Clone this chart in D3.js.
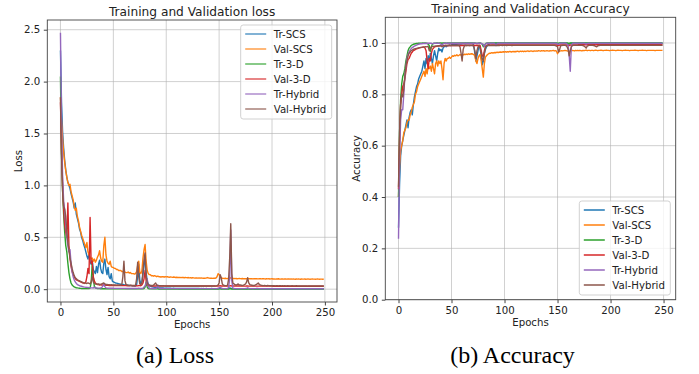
<!DOCTYPE html>
<html>
<head>
<meta charset="utf-8">
<script src="https://cdn.jsdelivr.net/npm/d3@7"></script>
<style>
  body { margin: 0; background: #fff; }
  svg text { font-family: "DejaVu Sans", sans-serif; }
</style>
</head>
<body>
<svg id="chart" width="699" height="374"></svg>
<script>
// ---- data ----
const seriesNames = ["Tr-SCS", "Val-SCS", "Tr-3-D", "Val-3-D", "Tr-Hybrid", "Val-Hybrid"];
const seriesColors = ["#1f77b4", "#ff7f0e", "#2ca02c", "#d62728", "#9467bd", "#8c564b"];
const epochTicks = [0, 50, 100, 150, 200, 250];
const lossTicks = [0, 0.5, 1.0, 1.5, 2.0, 2.5];
const accTicks = [0, 0.2, 0.4, 0.6, 0.8, 1.0];
const captions = ["(a) Loss", "(b) Accuracy"];

const trScsLoss = [
  2.30,1.80,1.52,1.36,1.24,1.15,1.08,1.03,1.00,0.97,
  .92,.88,.84,.78,.83,.72,.68,.64,.58,.55,
  .50,.47,.43,.40,.36,.32,.29,.35,.27,.24,
  .28,.19,.17,.15,.22,.16,.24,.28,.20,.16,
  .15,.25,.29,.19,.14,.21,.12,.10,.15,.08,
  .07,.065,.06,.058,.055,.052,.05,.048,.046,.045,
  .043,.042,.04,.039,.038,.036,.035,.034,.033,.032,
  .031,.03,.04,.13,.24,.09,.05,.07,.14,.22,
  .33,.16,.08,.05,.035,.03,.026,.022,.02,.018,
  .016,.015,.014,.013,.012,.012,.011,.011,.010,.010,
  .010,.009,.009,.009,.009,.008,.008,.009,.008,.008,
  .008,.008,.007,.008,.007,.007,.007,.008,.007,.007,
  .007,.006,.007,.006,.006,.007,.006,.006,.006,.006,
  .006,.006,.005,.006,.005,.006,.005,.005,.006,.005,
  .005,.005,.005,.006,.005,.005,.005,.005,.005,.005,
  .006,.008,.007,.005,.005,.005,.005,.005,.005,.006,
  .012,.009,.005,.005,.005,.004,.005,.004,.004,.005,
  .004,.004,.005,.004,.004,.004,.004,.006,.005,.004,
  .004,.004,.004,.004,.004,.004,.005,.004,.004,.004,
  .004,.004,.004,.004,.004,.004,.004,.004,.004,.004,
  .004,.004,.003,.004,.004,.004,.003,.004,.004,.004,
  .003,.004,.004,.003,.004,.003,.004,.004,.003,.004,
  .003,.003,.004,.003,.003,.004,.003,.003,.004,.003,
  .003,.003,.003,.004,.003,.003,.003,.003,.003,.004,
  .003,.003,.003,.003,.003,.004,.003,.003,.003,.003
];
const valScsLoss = [
  1.85,1.62,1.45,1.32,1.22,1.14,1.08,1.03,1.00,1.01,
  .94,.90,.86,.80,.76,.78,.70,.66,.60,.56,
  .52,.49,.46,.43,.40,.45,.36,.33,.31,.29,
  .30,.27,.29,.26,.28,.31,.33,.37,.30,.27,
  .26,.42,.50,.33,.27,.25,.24,.27,.22,.21,
  .21,.20,.20,.19,.19,.18,.18,.18,.17,.17,
  .17,.165,.16,.16,.165,.155,.16,.15,.15,.15,
  .145,.15,.17,.23,.27,.16,.15,.18,.30,.38,
  .43,.27,.18,.15,.14,.14,.13,.13,.125,.13,
  .125,.12,.125,.12,.12,.115,.12,.12,.115,.12,
  .118,.12,.117,.115,.118,.116,.114,.117,.115,.113,
  .115,.112,.114,.113,.111,.113,.112,.11,.112,.111,
  .11,.112,.109,.111,.108,.11,.109,.107,.109,.108,
  .107,.109,.106,.108,.107,.105,.107,.106,.108,.112,
  .108,.106,.105,.107,.104,.106,.105,.108,.12,.15,
  .14,.12,.11,.105,.104,.103,.105,.102,.104,.103,
  .11,.108,.105,.103,.104,.102,.103,.101,.102,.104,
  .102,.101,.103,.1,.102,.101,.1,.104,.102,.1,
  .101,.1,.099,.101,.1,.102,.1,.099,.101,.1,
  .099,.1,.101,.099,.098,.1,.099,.1,.098,.099,
  .1,.098,.099,.097,.099,.098,.1,.098,.097,.099,
  .098,.097,.099,.098,.097,.098,.099,.097,.098,.097,
  .098,.097,.096,.098,.097,.098,.097,.096,.098,.097,
  .097,.098,.096,.097,.098,.097,.096,.097,.098,.097,
  .097,.096,.097,.098,.097,.096,.097,.097,.096,.097
];
const trThreeDLoss = [
  2.05,1.30,.95,.72,.55,.42,.36,.25,.16,.10,
  .06,.04,.03,.022,.018,.014,.012,.010,.009,.008,
  .007,.006,.006,.005,.005,.005,.005,.006,.010,.060,
  .24,.12,.03,.012,.008,.006,.005,.005,.004,.004,
  .004,.004,.005,.004,.004,.003,.004,.003,.003,.003,
  .003,.003,.003,.003,.003,.003,.003,.003,.003,.003,
  .003,.003,.003,.003,.003,.003,.003,.003,.003,.003,
  .003,.003,.003,.003,.003,.003,.003,.003,.004,.006,
  .02,.07,.02,.006,.004,.003,.003,.003,.003,.003,
  .003,.003,.003,.002,.002,.002,.002,.002,.002,.002,
  .002,.002,.002,.002,.002,.002,.002,.002,.002,.002,
  .002,.002,.002,.002,.002,.002,.002,.002,.002,.002,
  .002,.002,.002,.002,.002,.002,.002,.002,.002,.002,
  .002,.002,.002,.002,.002,.002,.002,.002,.002,.002,
  .002,.002,.002,.002,.002,.002,.002,.002,.002,.002,
  .003,.003,.002,.002,.002,.002,.002,.002,.002,.002,
  .003,.004,.002,.002,.002,.002,.002,.002,.002,.002,
  .002,.002,.002,.002,.002,.002,.002,.002,.002,.002,
  .002,.002,.002,.002,.002,.002,.002,.002,.002,.002,
  .002,.002,.002,.002,.002,.002,.002,.002,.002,.002,
  .002,.002,.002,.002,.002,.002,.002,.002,.002,.002,
  .002,.002,.002,.002,.002,.002,.002,.002,.002,.002,
  .002,.002,.002,.002,.002,.002,.002,.002,.002,.002,
  .002,.002,.002,.002,.002,.002,.002,.002,.002,.002,
  .002,.002,.002,.002,.002,.002,.002,.002,.002,.002
];
const valThreeDLoss = [
  1.80,1.35,1.00,.78,.62,.55,.50,.83,.42,.30,
  .22,.17,.14,.12,.10,.09,.085,.08,.075,.07,
  .065,.06,.06,.055,.07,.12,.20,.15,.69,.25,
  .27,.12,.08,.06,.05,.045,.045,.04,.045,.04,
  .04,.045,.04,.038,.04,.037,.036,.038,.035,.036,
  .035,.036,.034,.035,.034,.035,.036,.034,.035,.034,
  .034,.035,.034,.033,.034,.033,.034,.035,.033,.034,
  .033,.034,.033,.032,.035,.034,.033,.04,.06,.10,
  .18,.08,.04,.035,.032,.033,.032,.031,.032,.031,
  .031,.032,.031,.031,.031,.031,.031,.031,.031,.031,
  .031,.031,.030,.031,.031,.030,.031,.030,.031,.030,
  .030,.031,.030,.030,.030,.031,.030,.030,.030,.030,
  .030,.030,.030,.030,.030,.030,.030,.030,.030,.030,
  .030,.030,.030,.030,.030,.030,.030,.030,.030,.030,
  .030,.030,.030,.030,.030,.030,.030,.030,.030,.031,
  .032,.033,.031,.030,.030,.030,.030,.030,.030,.030,
  .032,.034,.031,.030,.030,.030,.030,.030,.030,.030,
  .029,.030,.029,.030,.029,.029,.030,.030,.029,.029,
  .029,.029,.029,.029,.029,.029,.029,.029,.029,.029,
  .029,.029,.029,.029,.029,.029,.029,.029,.029,.029,
  .029,.028,.029,.028,.029,.028,.029,.028,.028,.029,
  .028,.028,.028,.028,.028,.028,.028,.028,.028,.028,
  .028,.028,.028,.028,.028,.028,.028,.028,.028,.028,
  .028,.028,.028,.028,.028,.028,.028,.028,.028,.028,
  .028,.028,.028,.028,.028,.028,.028,.028,.028,.028
];
const trHybridLoss = [
  2.47,1.60,1.10,.85,.76,.62,.50,.42,.36,.38,
  .25,.17,.12,.09,.07,.055,.045,.04,.035,.03,
  .028,.025,.022,.02,.018,.017,.016,.015,.014,.013,
  .013,.012,.02,.012,.011,.01,.01,.01,.011,.015,
  .03,.045,.025,.012,.01,.01,.009,.009,.009,.009,
  .009,.008,.008,.008,.008,.008,.008,.008,.008,.008,
  .008,.008,.007,.008,.007,.007,.007,.007,.007,.007,
  .007,.007,.007,.008,.01,.008,.007,.007,.01,.02,
  .03,.06,.10,.03,.01,.008,.007,.006,.006,.006,
  .006,.01,.04,.012,.006,.006,.006,.006,.005,.005,
  .005,.005,.005,.005,.005,.005,.005,.005,.005,.005,
  .005,.005,.005,.005,.005,.005,.005,.005,.005,.005,
  .005,.005,.005,.005,.005,.005,.005,.005,.005,.005,
  .005,.005,.005,.005,.005,.005,.005,.005,.005,.005,
  .005,.005,.005,.005,.005,.005,.005,.005,.006,.008,
  .012,.02,.01,.006,.005,.005,.005,.005,.006,.02,
  .10,.57,.08,.01,.006,.005,.005,.005,.005,.005,
  .005,.005,.005,.005,.005,.006,.008,.012,.006,.005,
  .005,.005,.004,.005,.005,.006,.008,.006,.005,.004,
  .004,.004,.004,.004,.004,.004,.004,.004,.004,.004,
  .004,.004,.004,.004,.004,.004,.004,.004,.004,.004,
  .004,.004,.004,.004,.004,.004,.004,.004,.004,.004,
  .004,.004,.004,.004,.004,.004,.004,.004,.004,.004,
  .004,.004,.004,.004,.004,.004,.004,.004,.004,.004,
  .004,.004,.004,.004,.004,.004,.004,.004,.004,.004
];
const valHybridLoss = [
  1.85,1.30,.95,.80,.77,.70,.55,.45,.38,.30,
  .25,.20,.16,.13,.11,.10,.09,.085,.08,.075,
  .07,.065,.06,.06,.058,.055,.06,.055,.05,.07,
  .12,.07,.055,.05,.05,.048,.05,.047,.045,.05,
  .055,.06,.05,.045,.045,.043,.044,.042,.043,.041,
  .04,.04,.041,.039,.04,.038,.039,.04,.045,.12,
  .27,.08,.045,.04,.038,.037,.038,.036,.037,.036,
  .036,.04,.10,.26,.12,.05,.045,.06,.18,.28,
  .35,.12,.06,.045,.04,.038,.037,.036,.04,.05,
  .06,.04,.035,.034,.033,.033,.032,.033,.032,.031,
  .031,.032,.031,.031,.03,.031,.032,.031,.03,.031,
  .031,.03,.031,.032,.031,.03,.031,.03,.031,.03,
  .03,.031,.03,.031,.03,.03,.031,.03,.03,.031,
  .03,.031,.03,.03,.031,.03,.03,.03,.031,.03,
  .03,.031,.03,.03,.03,.031,.03,.032,.035,.04,
  .06,.14,.11,.05,.04,.035,.034,.033,.04,.10,
  .30,.63,.15,.06,.05,.045,.04,.045,.05,.04,
  .04,.038,.036,.04,.045,.05,.07,.11,.06,.045,
  .04,.038,.036,.035,.04,.045,.05,.06,.045,.04,
  .037,.035,.034,.036,.034,.033,.035,.034,.033,.034,
  .033,.034,.033,.032,.034,.033,.032,.033,.034,.032,
  .033,.032,.033,.032,.031,.033,.032,.031,.032,.033,
  .032,.031,.032,.033,.031,.032,.031,.032,.031,.032,
  .031,.032,.031,.03,.032,.031,.032,.031,.03,.031,
  .032,.031,.03,.031,.032,.031,.03,.031,.032,.031
];

const trScsAcc = [
  .28,.45,.56,.60,.62,.64,.66,.68,.70,.67,
  .71,.73,.74,.72,.76,.79,.81,.83,.84,.86,
  .87,.88,.89,.91,.93,.90,.94,.92,.95,.93,
  .96,.94,.92,.95,.97,.95,.93,.96,.98,.97,
  .975,.965,.98,.985,.99,.985,.99,.99,.992,.99,
  .993,.994,.995,.995,.996,.995,.996,.996,.997,.996,
  .997,.997,.997,.998,.997,.998,.998,.997,.998,.998,
  .998,.99,.96,.93,.95,.97,.99,.98,.95,.915,
  .93,.96,.975,.985,.99,.995,.997,.998,.998,.998,
  .998,.998,.999,.998,.999,.998,.999,.999,.998,.999,
  .999,.999,.998,.999,.999,.999,.999,.998,.999,.999,
  .999,.999,.999,.999,.999,.999,.999,.999,.999,.999,
  .999,.999,.999,.999,.999,.999,.999,.999,.999,.999,
  .999,.999,.999,.999,.999,.999,.999,.999,.999,.999,
  .999,.999,.999,.999,.999,.999,.999,.999,.999,.998,
  .997,.996,.998,.999,.999,.999,.999,.999,.999,.999,
  .997,.995,.998,.999,.999,.999,.999,.999,.999,.999,
  .999,.999,.999,.999,.999,.999,.999,.998,.999,.999,
  .999,.999,.999,.999,.999,.999,.999,.999,.999,.999,
  .999,.999,.999,.999,.999,.999,.999,.999,.999,.999,
  .999,.999,.999,.999,.999,.999,.999,.999,.999,.999,
  .999,.999,.999,.999,.999,.999,.999,.999,.999,.999,
  .999,.999,.999,.999,.999,.999,.999,.999,.999,.999,
  .999,.999,.999,.999,.999,.999,.999,.999,.999,.999,
  .999,.999,.999,.999,.999,.999,.999,.999,.999,.999
];
const valScsAcc = [
  .40,.52,.58,.60,.62,.65,.66,.67,.69,.70,
  .70,.72,.73,.75,.76,.77,.80,.81,.83,.84,
  .85,.86,.87,.88,.89,.87,.90,.88,.91,.90,
  .91,.89,.92,.90,.88,.92,.93,.91,.93,.92,
  .93,.90,.857,.92,.94,.93,.94,.94,.945,.94,
  .945,.95,.948,.952,.95,.954,.95,.952,.955,.953,
  .955,.953,.956,.955,.957,.955,.958,.956,.957,.958,
  .957,.955,.95,.93,.92,.94,.95,.955,.93,.90,
  .867,.92,.945,.95,.955,.958,.96,.96,.962,.961,
  .962,.963,.962,.964,.963,.964,.965,.964,.965,.966,
  .965,.966,.964,.966,.965,.967,.966,.965,.967,.966,
  .967,.966,.968,.967,.966,.968,.967,.968,.966,.968,
  .967,.968,.969,.967,.968,.969,.968,.967,.969,.968,
  .969,.968,.97,.969,.968,.97,.969,.97,.968,.969,
  .97,.969,.968,.97,.969,.97,.971,.969,.97,.968,
  .958,.965,.968,.969,.97,.969,.97,.971,.97,.969,
  .968,.966,.969,.97,.971,.97,.969,.971,.97,.971,
  .97,.971,.97,.969,.971,.97,.971,.972,.97,.971,
  .971,.97,.971,.971,.97,.971,.972,.971,.97,.971,
  .971,.972,.971,.97,.971,.971,.972,.971,.971,.97,
  .971,.971,.972,.971,.971,.97,.971,.972,.971,.971,
  .971,.97,.971,.971,.972,.971,.971,.971,.97,.971,
  .971,.971,.971,.972,.971,.971,.97,.971,.971,.971,
  .972,.971,.971,.971,.97,.971,.971,.971,.971,.971,
  .971,.971,.97,.971,.971,.971,.971,.971,.971,.971
];
const trThreeDAcc = [
  .40,.65,.78,.84,.87,.88,.90,.93,.95,.97,
  .98,.985,.99,.993,.995,.996,.997,.998,.998,.999,
  .999,.999,.999,1,.999,1,.999,.999,.995,.99,
  .967,.985,.995,.998,.999,.999,1,1,.999,1,
  1,.999,1,1,1,.999,1,1,1,1,
  1,1,1,1,1,1,1,1,1,1,
  1,1,1,1,1,1,1,1,1,1,
  1,1,1,.999,.998,.999,1,1,.998,.995,
  .985,.99,.997,.999,1,1,1,1,1,1,
  1,1,1,1,1,1,1,1,1,1,
  1,1,1,1,1,1,1,1,1,1,
  1,1,1,1,1,1,1,1,1,1,
  1,1,1,1,1,1,1,1,1,1,
  1,1,1,1,1,1,1,1,1,1,
  1,1,1,1,1,1,1,1,1,1,
  .999,.999,1,1,1,1,1,1,1,1,
  .999,.998,1,1,1,1,1,1,1,1,
  1,1,1,1,1,1,1,1,1,1,
  1,1,1,1,1,1,1,1,1,1,
  1,1,1,1,1,1,1,1,1,1,
  1,1,1,1,1,1,1,1,1,1,
  1,1,1,1,1,1,1,1,1,1,
  1,1,1,1,1,1,1,1,1,1,
  1,1,1,1,1,1,1,1,1,1,
  1,1,1,1,1,1,1,1,1,1
];
const valThreeDAcc = [
  .43,.62,.76,.80,.83,.84,.86,.89,.92,.935,
  .94,.95,.96,.965,.97,.972,.975,.977,.978,.98,
  .981,.982,.983,.984,.985,.98,.97,.93,.90,.94,
  .93,.96,.975,.98,.985,.986,.987,.988,.988,.989,
  .989,.988,.99,.989,.99,.99,.989,.99,.991,.99,
  .99,.991,.99,.99,.991,.99,.991,.99,.991,.99,
  .991,.99,.991,.991,.99,.991,.991,.99,.991,.991,
  .991,.99,.991,.99,.991,.99,.991,.99,.97,.95,
  .948,.97,.985,.99,.991,.991,.992,.991,.992,.992,
  .992,.992,.992,.992,.992,.992,.992,.992,.992,.992,
  .992,.992,.992,.992,.992,.992,.992,.992,.992,.992,
  .992,.992,.992,.992,.992,.992,.992,.992,.992,.992,
  .992,.992,.992,.992,.992,.992,.992,.992,.992,.992,
  .992,.992,.992,.992,.992,.992,.992,.992,.992,.992,
  .992,.992,.992,.992,.992,.992,.992,.992,.992,.992,
  .991,.99,.992,.992,.992,.992,.992,.992,.992,.992,
  .991,.99,.992,.992,.992,.992,.992,.992,.992,.992,
  .993,.993,.993,.993,.993,.993,.993,.993,.993,.993,
  .993,.993,.993,.993,.993,.993,.993,.993,.993,.993,
  .993,.993,.993,.993,.993,.993,.993,.993,.993,.993,
  .993,.993,.993,.993,.993,.993,.993,.993,.993,.993,
  .993,.993,.993,.993,.993,.993,.993,.993,.993,.993,
  .993,.993,.993,.993,.993,.993,.993,.993,.993,.993,
  .993,.993,.993,.993,.993,.993,.993,.993,.993,.993,
  .993,.993,.993,.993,.993,.993,.993,.993,.993,.993
];
const trHybridAcc = [
  .237,.55,.70,.74,.74,.80,.87,.91,.94,.955,
  .965,.972,.978,.982,.985,.988,.99,.992,.994,.995,
  .996,.997,.997,.998,.998,.998,.999,.998,.999,.999,
  .999,.999,.996,.999,.999,.999,.999,.999,.999,.998,
  .995,.99,.996,.999,.999,.999,.999,.999,.999,.999,
  .999,.999,.999,.999,.999,.999,.999,.999,.999,.999,
  .999,.999,.999,.999,.999,.999,.999,.999,.999,.999,
  .999,.999,.999,.999,.998,.999,.999,.999,.998,.996,
  .995,.985,.995,.999,.999,.999,.999,.999,.999,.999,
  .999,.997,.99,.998,.999,.999,.999,.999,.999,.999,
  .999,.999,.999,.999,.999,.999,.999,.999,.999,.999,
  .999,.999,.999,.999,.999,.999,.999,.999,.999,.999,
  .999,.999,.999,.999,.999,.999,.999,.999,.999,.999,
  .999,.999,.999,.999,.999,.999,.999,.999,.999,.999,
  .999,.999,.999,.999,.999,.999,.999,.999,.999,.998,
  .996,.995,.998,.999,.999,.999,.999,.999,.999,.996,
  .99,.95,.89,.985,.998,.999,.999,.999,.999,.999,
  .999,.999,.999,.999,.999,.999,.998,.996,.998,.999,
  .999,.999,.999,.999,.999,.999,.998,.999,.999,.999,
  .999,.999,.999,.999,.999,.999,.999,.999,.999,.999,
  .999,.999,.999,.999,.999,.999,.999,.999,.999,.999,
  .999,.999,.999,.999,.999,.999,.999,.999,.999,.999,
  .999,.999,.999,.999,.999,.999,.999,.999,.999,.999,
  .999,.999,.999,.999,.999,.999,.999,.999,.999,.999,
  .999,.999,.999,.999,.999,.999,.999,.999,.999,.999
];
const valHybridAcc = [
  .44,.65,.76,.80,.79,.82,.87,.91,.93,.95,
  .96,.965,.97,.972,.975,.977,.978,.979,.98,.981,
  .982,.983,.983,.984,.984,.985,.985,.986,.986,.97,
  .975,.985,.986,.987,.987,.988,.988,.988,.989,.989,
  .989,.985,.988,.989,.99,.99,.99,.99,.99,.99,
  .99,.99,.99,.99,.99,.99,.99,.99,.985,.96,
  .93,.975,.987,.99,.99,.99,.99,.99,.99,.99,
  .99,.985,.97,.94,.97,.985,.99,.98,.96,.94,
  .93,.96,.98,.99,.99,.99,.99,.99,.99,.99,
  .99,.99,.991,.99,.991,.99,.991,.991,.99,.991,
  .991,.991,.99,.991,.991,.991,.991,.99,.991,.991,
  .991,.991,.991,.991,.991,.991,.991,.991,.991,.991,
  .991,.991,.991,.991,.991,.991,.991,.991,.991,.991,
  .991,.991,.991,.991,.991,.991,.991,.991,.991,.991,
  .991,.991,.991,.991,.991,.991,.991,.991,.99,.988,
  .985,.965,.975,.99,.99,.991,.991,.991,.99,.985,
  .975,.95,.97,.985,.99,.991,.991,.991,.991,.991,
  .991,.991,.991,.991,.99,.988,.985,.98,.988,.99,
  .991,.991,.991,.991,.99,.989,.987,.985,.989,.99,
  .991,.991,.991,.991,.991,.991,.991,.991,.991,.991,
  .991,.991,.991,.991,.991,.991,.991,.991,.991,.991,
  .991,.991,.991,.991,.991,.991,.991,.991,.991,.991,
  .991,.991,.991,.991,.991,.991,.991,.991,.991,.991,
  .991,.991,.991,.991,.991,.991,.991,.991,.991,.991,
  .991,.991,.991,.991,.991,.991,.991,.991,.991,.991
];

const lossSeries = [trScsLoss, valScsLoss, trThreeDLoss, valThreeDLoss, trHybridLoss, valHybridLoss];
const accSeries = [trScsAcc, valScsAcc, trThreeDAcc, valThreeDAcc, trHybridAcc, valHybridAcc];

// ---- drawing ----
const svg = d3.select("#chart");
const epochDomain = [-12.45, 261.45];

function drawPanel(cfg) {
  const g = svg.append("g");
  const x = d3.scaleLinear().domain(epochDomain).range([cfg.left, cfg.right]);
  const y = d3.scaleLinear().domain(cfg.yDomain).range([cfg.bottom, cfg.top]);

  // grid
  g.append("g").selectAll("line").data(epochTicks).enter().append("line")
    .attr("x1", d => x(d)).attr("x2", d => x(d))
    .attr("y1", cfg.top).attr("y2", cfg.bottom)
    .attr("stroke", "#b0b0b0").attr("stroke-opacity", 0.6).attr("stroke-width", 1);
  g.append("g").selectAll("line").data(cfg.yTicks).enter().append("line")
    .attr("x1", cfg.left).attr("x2", cfg.right)
    .attr("y1", d => y(d)).attr("y2", d => y(d))
    .attr("stroke", "#b0b0b0").attr("stroke-opacity", 0.6).attr("stroke-width", 1);

  // lines
  const line = d3.line().x((d, i) => x(i)).y(d => y(d));
  cfg.series.forEach((s, i) => {
    g.append("path").datum(s)
      .attr("d", line)
      .attr("fill", "none")
      .attr("stroke", seriesColors[i])
      .attr("stroke-width", 1.4)
      .attr("stroke-linejoin", "round");
  });

  // spines
  g.append("rect")
    .attr("x", cfg.left).attr("y", cfg.top)
    .attr("width", cfg.right - cfg.left).attr("height", cfg.bottom - cfg.top)
    .attr("fill", "none").attr("stroke", "#444").attr("stroke-width", 0.9);

  // axes
  const xAxis = g.append("g")
    .attr("transform", `translate(0,${cfg.bottom})`)
    .call(d3.axisBottom(x).tickValues(epochTicks).tickSize(3.5).tickPadding(3.5));
  const yAxis = g.append("g")
    .attr("transform", `translate(${cfg.left},0)`)
    .call(d3.axisLeft(y).tickValues(cfg.yTicks).tickFormat(d3.format(".1f")).tickSize(3.5).tickPadding(3.5));
  [xAxis, yAxis].forEach(a => {
    a.select(".domain").remove();
    a.selectAll("line").attr("stroke", "#444");
    a.selectAll("text").attr("font-size", 10.2).attr("fill", "#222")
      .style("font-family", "DejaVu Sans, sans-serif");
  });

  // title & labels
  g.append("text")
    .attr("x", (cfg.left + cfg.right) / 2).attr("y", cfg.top - 4.5)
    .attr("text-anchor", "middle").attr("font-size", 12.2).attr("fill", "#222")
    .text(cfg.title);
  g.append("text")
    .attr("x", (cfg.left + cfg.right) / 2).attr("y", cfg.bottom + 26)
    .attr("text-anchor", "middle").attr("font-size", 10.2).attr("fill", "#222")
    .text("Epochs");
  g.append("text")
    .attr("transform", `translate(${cfg.ylabelX},${(cfg.top + cfg.bottom) / 2}) rotate(-90)`)
    .attr("text-anchor", "middle").attr("font-size", 10.2).attr("fill", "#222")
    .text(cfg.ylabel);

  // legend
  const lg = g.append("g").attr("transform", `translate(${cfg.legendX},${cfg.legendY})`);
  lg.append("rect")
    .attr("width", 91).attr("height", 94).attr("rx", 2.5)
    .attr("fill", "#fff").attr("fill-opacity", 0.8)
    .attr("stroke", "#cccccc").attr("stroke-width", 0.9);
  seriesNames.forEach((name, i) => {
    const yy = 9 + i * 15;
    lg.append("line")
      .attr("x1", 4.5).attr("x2", 25.5).attr("y1", yy).attr("y2", yy)
      .attr("stroke", seriesColors[i]).attr("stroke-width", 1.5)
      .attr("stroke-opacity", cfg.handleOpacity);
    lg.append("text")
      .attr("x", 33).attr("y", yy).attr("dy", "0.36em")
      .attr("font-size", 10.2).attr("fill", "#222")
      .text(name);
  });

  // caption
  svg.append("text")
    .attr("x", cfg.captionX).attr("y", 363)
    .attr("text-anchor", "middle")
    .attr("font-size", 24)
    .style("font-family", "'Liberation Serif', 'Times New Roman', serif")
    .attr("fill", "#000")
    .text(cfg.caption);
}

drawPanel({
  left: 47.3, right: 337, top: 20, bottom: 302,
  yDomain: [-0.1235, 2.5935], yTicks: lossTicks, series: lossSeries,
  title: "Training and Validation loss", ylabel: "Loss", ylabelX: 21.5,
  legendX: 240.7, legendY: 25, handleOpacity: 0.75,
  caption: captions[0], captionX: 175
});
drawPanel({
  left: 385.3, right: 675.7, top: 17.3, bottom: 299.7,
  yDomain: [0, 1.1], yTicks: accTicks, series: accSeries,
  title: "Training and Validation Accuracy", ylabel: "Accuracy", ylabelX: 359.5,
  legendX: 579.3, legendY: 201, handleOpacity: 1,
  caption: captions[1], captionX: 512.5
});
</script>
</body>
</html>
